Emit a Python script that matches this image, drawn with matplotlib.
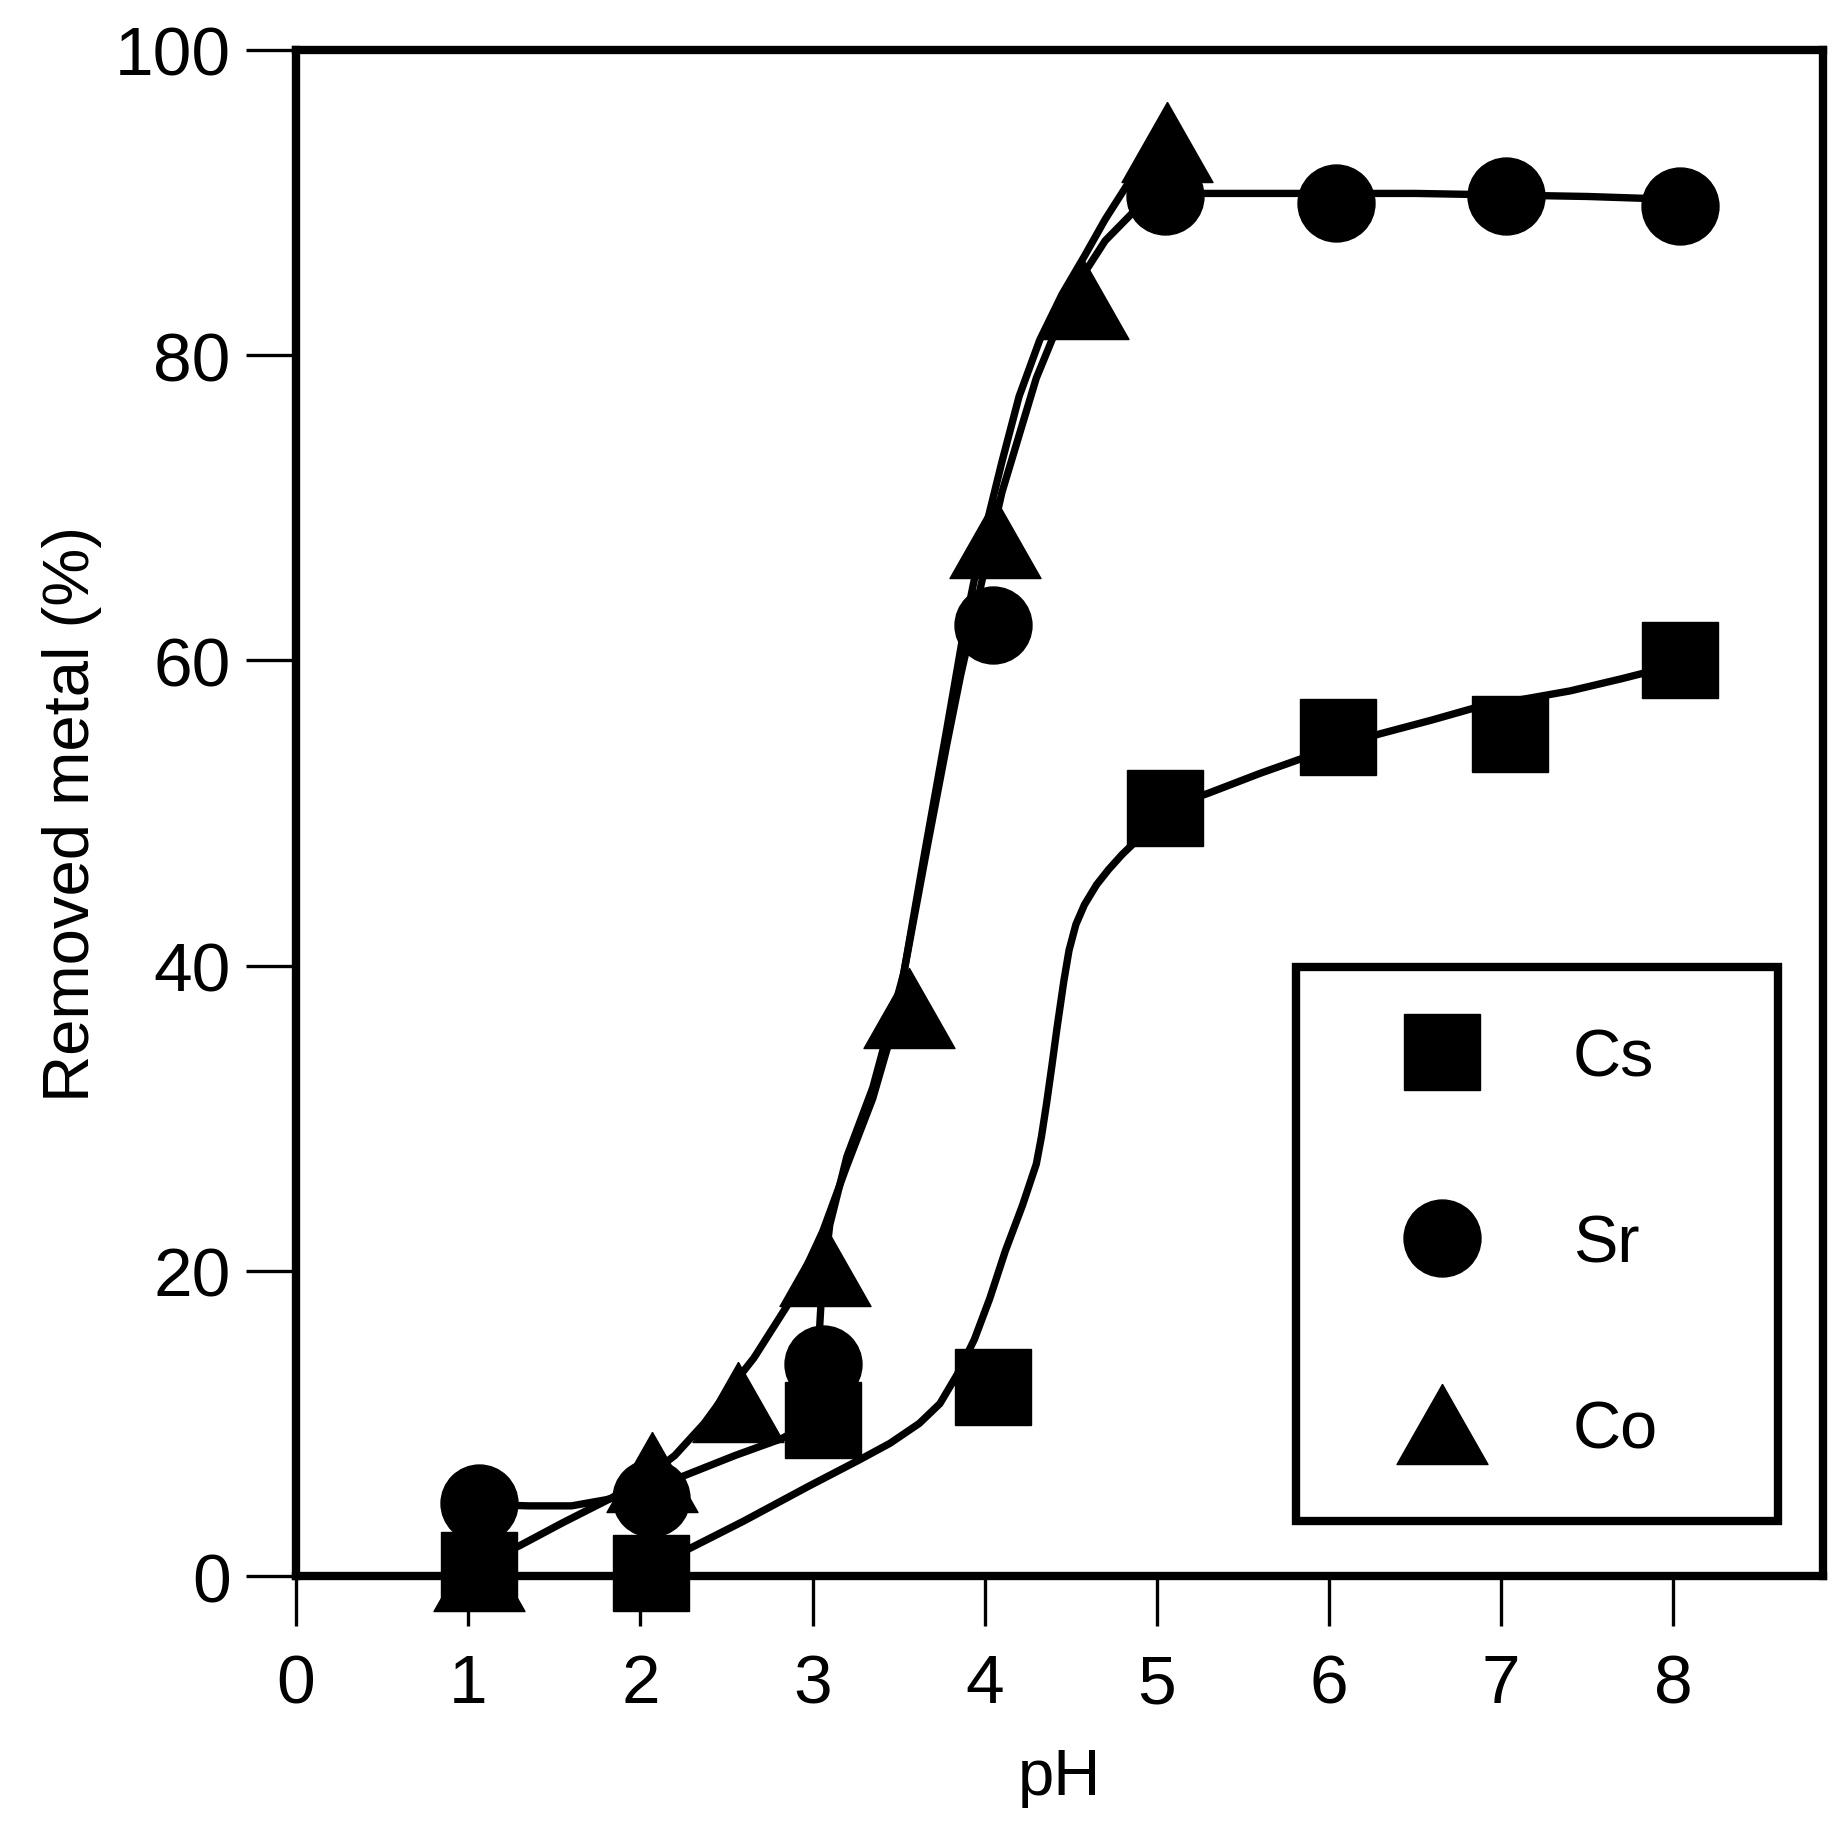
import matplotlib
matplotlib.use("Agg")
import matplotlib.pyplot as plt

plt.rcParams['font.family'] = ['Liberation Sans', 'DejaVu Sans']

# measured points
cs_x = [1.06, 2.06, 3.06, 4.05, 5.05, 6.05, 7.05, 8.04]
cs_y = [0.4, 0.2, 10.2, 12.4, 50.3, 55.0, 55.2, 60.0]
sr_x = [1.06, 2.06, 3.06, 4.05, 5.05, 6.04, 7.03, 8.04]
sr_y = [4.8, 5.1, 13.9, 62.3, 90.4, 90.0, 90.4, 89.8]
co_x = [1.06, 2.07, 2.57, 3.07, 3.56, 4.06, 4.57, 5.06]
co_y = [0.3, 6.8, 11.4, 20.3, 37.2, 68.0, 83.7, 94.0]

# hand-drawn fit curves
cs_fit_x = [2.25, 2.6, 2.98, 3.27, 3.45, 3.62, 3.74, 3.84, 3.94, 4.03, 4.12, 4.22, 4.3, 4.33,
            4.36, 4.39, 4.42, 4.46, 4.49, 4.53, 4.58, 4.65, 4.72, 4.8, 4.92, 5.05, 5.3, 5.6,
            5.85, 6.05, 6.3, 6.6, 6.85, 7.05, 7.4, 7.7, 8.05]
cs_fit_y = [1.6, 3.6, 5.9, 7.6, 8.7, 10.0, 11.3, 13.2, 15.5, 18.2, 21.3, 24.3, 27.0, 28.8,
            31.0, 33.4, 35.9, 39.0, 41.0, 42.7, 44.0, 45.3, 46.3, 47.3, 48.6, 50.3, 51.3, 52.6,
            53.6, 54.4, 55.2, 56.1, 56.9, 57.3, 58.0, 58.8, 59.8]
sr_fit_x = [1.06, 1.35, 1.6, 1.8, 2.05, 2.26, 2.55, 2.82, 2.98, 3.03, 3.05, 3.1, 3.2, 3.35, 3.53,
            3.67, 3.78, 3.86, 3.95, 4.1, 4.3, 4.5, 4.7, 4.9, 5.05, 5.5, 6.0, 6.5, 7.0, 7.5, 8.04]
sr_fit_y = [4.7, 4.6, 4.6, 5.0, 5.7, 6.6, 7.9, 9.0, 10.0, 14.0, 18.0, 23.0, 27.5, 32.0, 39.5,
            48.0, 54.5, 59.0, 63.5, 71.0, 78.5, 84.0, 87.5, 89.8, 90.6, 90.6, 90.6, 90.6, 90.5, 90.4, 90.2]
co_fit_x = [1.15, 1.3, 1.55, 1.83, 2.05, 2.2, 2.37, 2.5, 2.66, 2.88, 3.06, 3.2, 3.35, 3.45, 3.53,
            3.65, 3.78, 3.88, 3.98, 4.1, 4.2, 4.32, 4.45, 4.58, 4.7, 4.83, 5.05]
co_fit_y = [1.2, 2.0, 3.5, 5.1, 6.6, 7.9, 10.0, 12.0, 14.3, 18.2, 22.6, 26.9, 31.3, 35.2, 39.5,
            47.3, 55.5, 62.0, 67.5, 73.0, 77.3, 81.0, 84.0, 86.5, 88.9, 91.2, 93.8]

labels = ['Cs', 'Sr', 'Co']
x_ticks = [0, 1, 2, 3, 4, 5, 6, 7, 8]
y_ticks = [0, 20, 40, 60, 80, 100]

tri = [(0, 0.88), (-1, -0.88), (1, -0.88), (0, 0.88)]

fig = plt.figure(figsize=(18.48, 18.40), dpi=100)
ax = fig.add_axes([0.1602, 0.1429, 0.8263, 0.8294])

lw = 5.3
for fx, fy in [(cs_fit_x, cs_fit_y), (sr_fit_x, sr_fit_y), (co_fit_x, co_fit_y)]:
    ax.plot(fx, fy, color='black', lw=lw, solid_capstyle='round', solid_joinstyle='round', zorder=2)

ax.plot(cs_x, cs_y, linestyle='none', marker='s', ms=55.4, color='black', label=labels[0], zorder=3, clip_on=False)
ax.plot(sr_x, sr_y, linestyle='none', marker='o', ms=55.4, color='black', label=labels[1], zorder=3, clip_on=False)
ax.plot(co_x, co_y, linestyle='none', marker=tri, ms=65.5, color='black', label=labels[2], zorder=3, clip_on=False)

ax.set_xlim(0, 8.87)
ax.set_ylim(0, 100)
ax.set_xticks(x_ticks)
ax.set_yticks(y_ticks)

for s in ax.spines.values():
    s.set_linewidth(6.0)
ax.tick_params(axis='both', direction='out', length=36, width=2.4, labelsize=50)
ax.tick_params(axis='x', pad=19)
ax.tick_params(axis='y', pad=11)

ax.set_xlabel('pH', fontsize=47, labelpad=22)
ax.set_ylabel('Removed metal (%)', fontsize=47, labelpad=9)

leg = ax.legend(loc='upper left', bbox_to_anchor=(0.655, 0.399, 0.3155, 0), mode='expand',
                borderaxespad=0, fontsize=48, frameon=True, fancybox=False, edgecolor='black',
                framealpha=1, handlelength=2.57, handletextpad=0.68, labelspacing=1.86,
                borderpad=0.9)
leg.get_frame().set_linewidth(6.0)

fig.savefig('out.png', dpi=100)
